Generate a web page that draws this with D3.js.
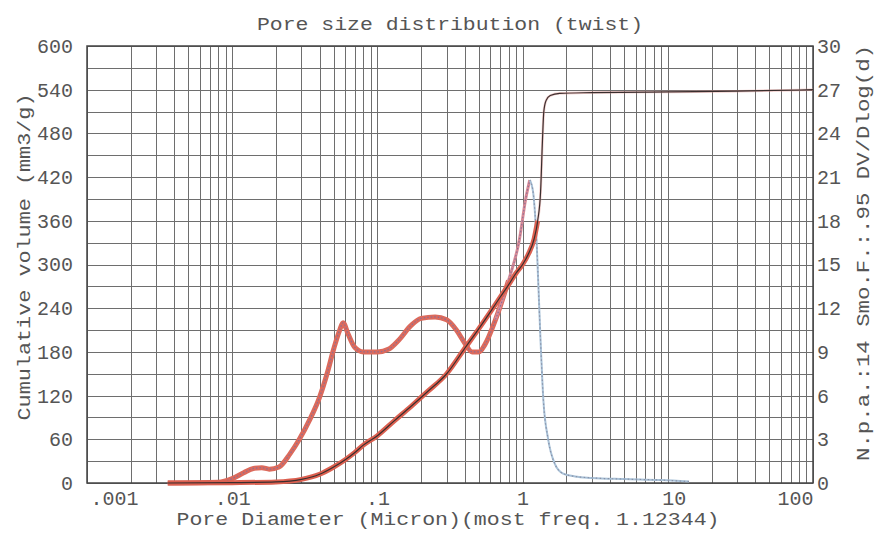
<!DOCTYPE html>
<html>
<head>
<meta charset="utf-8">
<script src="https://d3js.org/d3.v7.min.js"></script>
<style>
    body {
        margin: 0;
        background-color: #ffffff;
    }
    svg text {
        font-family: "Liberation Mono", "DejaVu Sans Mono", monospace;
        fill: #555555;
    }
    .grid line {
        stroke: #6e6e6e;
        stroke-width: 1px;
        shape-rendering: crispEdges;
    }
    .axis path {
        display: none;
    }
</style>
</head>
<body>
<svg width="880" height="533"></svg>
<script>

    // x tick labels (pore diameter, micron)
    var xTickValues = [0.001, 0.01, 0.1, 1, 10, 100];
    var xTickLabels = [".001", ".01", ".1", "1", "10", "100"];

    // cumulative intrusion curve, mm3/g
    var cumDiameter = [0.0036, 0.01, 0.02, 0.03, 0.04, 0.05, 0.06, 0.07, 0.08, 0.1, 0.13, 0.17, 0.22, 0.3, 0.4,
        0.5, 0.6, 0.7, 0.8, 0.9, 1.0, 1.1, 1.2, 1.27, 1.33, 1.37, 1.4, 1.45, 1.55, 1.8, 3, 10, 30, 100];
    var cumVolume = [0, 0.5, 1.5, 5, 12, 22, 32, 42, 52, 65, 85, 105, 125, 150, 185,
        212, 235, 255, 272, 288, 300, 315, 335, 360, 400, 470, 510, 525, 532, 535, 536, 537, 538, 540];

    // DV/Dlog(d) curve (right axis)
    var dvDiameter = [0.0036, 0.008, 0.01, 0.012, 0.014, 0.016, 0.018, 0.021, 0.025, 0.029, 0.034, 0.04, 0.045, 0.05,
        0.055, 0.058, 0.063, 0.07, 0.08, 0.1, 0.12, 0.14, 0.17, 0.2, 0.25, 0.3, 0.35, 0.4, 0.45, 0.5, 0.55, 0.65,
        0.8, 0.95, 1.05, 1.12, 1.18, 1.25, 1.32, 1.39, 1.5, 1.67, 1.9, 2.3, 3, 5, 9, 14];
    var dvValue = [0, 0.05, 0.3, 0.7, 1.0, 1.05, 0.95, 1.1, 2.0, 3.0, 4.3, 5.9, 7.5, 9.2,
        10.5, 11.0, 10.2, 9.3, 9.0, 9.0, 9.2, 9.8, 10.8, 11.3, 11.4, 11.2, 10.5, 9.6, 9.0, 9.0, 9.5, 11.2,
        13.9, 16.7, 19.5, 20.8, 20.0, 16.5, 10.5, 5.7, 3.0, 1.3, 0.65, 0.45, 0.35, 0.27, 0.2, 0.1];

    var svg = d3.select("svg"),
        margin = {top: 46, right: 67, bottom: 50, left: 87},
        width = +svg.attr("width") - margin.left - margin.right,
        height = +svg.attr("height") - margin.top - margin.bottom;

    var x = d3.scaleLog().domain([0.001, 100]).range([margin.left, margin.left + width]);
    var yL = d3.scaleLinear().domain([0, 600]).range([margin.top + height, margin.top]);
    var yR = d3.scaleLinear().domain([0, 30]).range([margin.top + height, margin.top]);

    // grid
    var grid = svg.append("g").attr("class", "grid");
    grid.selectAll(".v").data(x.ticks())
        .enter().append("line")
        .attr("x1", function (d) { return Math.round(x(d)) + 0.5; })
        .attr("x2", function (d) { return Math.round(x(d)) + 0.5; })
        .attr("y1", yL(0)).attr("y2", yL(600));
    grid.selectAll(".h").data(d3.range(0, 601, 30))
        .enter().append("line")
        .attr("y1", function (d) { return Math.round(yL(d)) + 0.5; })
        .attr("y2", function (d) { return Math.round(yL(d)) + 0.5; })
        .attr("x1", x(0.001)).attr("x2", x(100));

    svg.append("rect")
        .attr("x", x(0.001)).attr("y", yL(600))
        .attr("width", x(100) - x(0.001)).attr("height", yL(0) - yL(600))
        .attr("fill", "none").attr("stroke", "#444").attr("stroke-width", 1.5);

    // axes
    svg.append("g")
        .attr("class", "axis")
        .attr("transform", "translate(" + margin.left + ",0)")
        .call(d3.axisLeft(yL).tickValues(d3.range(0, 601, 60)).tickSize(0).tickPadding(14))
        .selectAll("text").style("font-size", "20px");

    svg.append("g")
        .attr("class", "axis")
        .attr("transform", "translate(" + (margin.left + width) + ",0)")
        .call(d3.axisRight(yR).tickValues(d3.range(0, 31, 3)).tickSize(0).tickPadding(4))
        .selectAll("text").style("font-size", "20px");

    var xAxis = svg.append("g")
        .attr("class", "axis")
        .attr("transform", "translate(0," + (margin.top + height) + ")")
        .call(d3.axisBottom(x).tickValues(xTickValues).tickSize(0).tickPadding(8)
            .tickFormat(function (d, i) { return xTickLabels[i]; }));
    xAxis.selectAll("text")
        .style("font-size", "20px")
        .attr("text-anchor", function (d, i) {
            return i === 0 ? "start" : (i === xTickValues.length - 1 ? "end" : "middle");
        })
        .attr("dx", function (d, i) { return i === 0 ? 3 : (i === 4 ? 6 : 0); });

    // titles
    svg.append("text")
        .attr("x", 450).attr("y", 30)
        .attr("text-anchor", "middle")
        .attr("textLength", 386).attr("lengthAdjust", "spacingAndGlyphs")
        .style("font-size", "19px")
        .text("Pore size distribution (twist)");

    svg.append("text")
        .attr("x", 448).attr("y", 525)
        .attr("text-anchor", "middle")
        .attr("textLength", 543).attr("lengthAdjust", "spacingAndGlyphs")
        .style("font-size", "18px")
        .text("Pore Diameter (Micron)(most freq. 1.12344)");

    svg.append("text")
        .attr("transform", "translate(30,257) rotate(-90)")
        .attr("text-anchor", "middle")
        .attr("textLength", 327).attr("lengthAdjust", "spacingAndGlyphs")
        .style("font-size", "19px")
        .text("Cumulative volume (mm3/g)");

    svg.append("text")
        .attr("transform", "translate(869,253) rotate(-90)")
        .attr("text-anchor", "middle")
        .attr("textLength", 416).attr("lengthAdjust", "spacingAndGlyphs")
        .style("font-size", "19px")
        .text("N.p.a.:14 Smo.F.:.95  DV/Dlog(d)");

    // curves
    var cumData = cumDiameter.map(function (d, i) { return {d: d, v: cumVolume[i]}; });
    var dvData = dvDiameter.map(function (d, i) { return {d: d, v: dvValue[i]}; });

    var cumLine = d3.line()
        .x(function (p) { return x(p.d); })
        .y(function (p) { return yL(p.v); })
        .curve(d3.curveMonotoneX);
    var dvLine = d3.line()
        .x(function (p) { return x(p.d); })
        .y(function (p) { return yR(p.v); })
        .curve(d3.curveMonotoneX);

    var dvLow = dvData.filter(function (p) { return p.d <= 0.8; });
    var dvMid = dvData.filter(function (p) { return p.d >= 0.65 && p.d <= 1.12; });
    var dvHigh = dvData.filter(function (p) { return p.d >= 1.12; });
    var cumLow = cumData.filter(function (p) { return p.d <= 1.27; });
    var cumHigh = cumData.filter(function (p) { return p.d >= 1.27; });

    // DV/Dlog(d): red band, then pink, then light blue
    svg.append("path").datum(dvLow).attr("d", dvLine)
        .attr("fill", "none").attr("stroke", "#dc6a5c").attr("stroke-width", 5).attr("stroke-linejoin", "round");
    svg.append("path").datum(dvMid).attr("d", dvLine)
        .attr("fill", "none").attr("stroke", "#d98a96").attr("stroke-width", 3);
    svg.append("path").datum(dvLow.concat(dvMid.slice(1))).attr("d", dvLine)
        .attr("fill", "none").attr("stroke", "#8c6f94").attr("stroke-width", 1.2).attr("stroke-dasharray", "1.5,2");
    svg.append("path").datum(dvHigh).attr("d", dvLine)
        .attr("fill", "none").attr("stroke", "#a9c2d8").attr("stroke-width", 2);
    svg.append("path").datum(dvHigh).attr("d", dvLine)
        .attr("fill", "none").attr("stroke", "#8a92a8").attr("stroke-width", 1.2).attr("stroke-dasharray", "1.5,2.5");

    // cumulative: red band with dark centre line
    svg.append("path").datum(cumLow).attr("d", cumLine)
        .attr("fill", "none").attr("stroke", "#dc6050").attr("stroke-width", 5).attr("stroke-linejoin", "round");
    svg.append("path").datum(cumHigh).attr("d", cumLine)
        .attr("fill", "none").attr("stroke", "#e39a96").attr("stroke-width", 2.5).attr("stroke-opacity", 0.5);
    svg.append("path").datum(cumData).attr("d", cumLine)
        .attr("fill", "none").attr("stroke", "#3a2e2e").attr("stroke-width", 1.2);

</script>
</body>
</html>
